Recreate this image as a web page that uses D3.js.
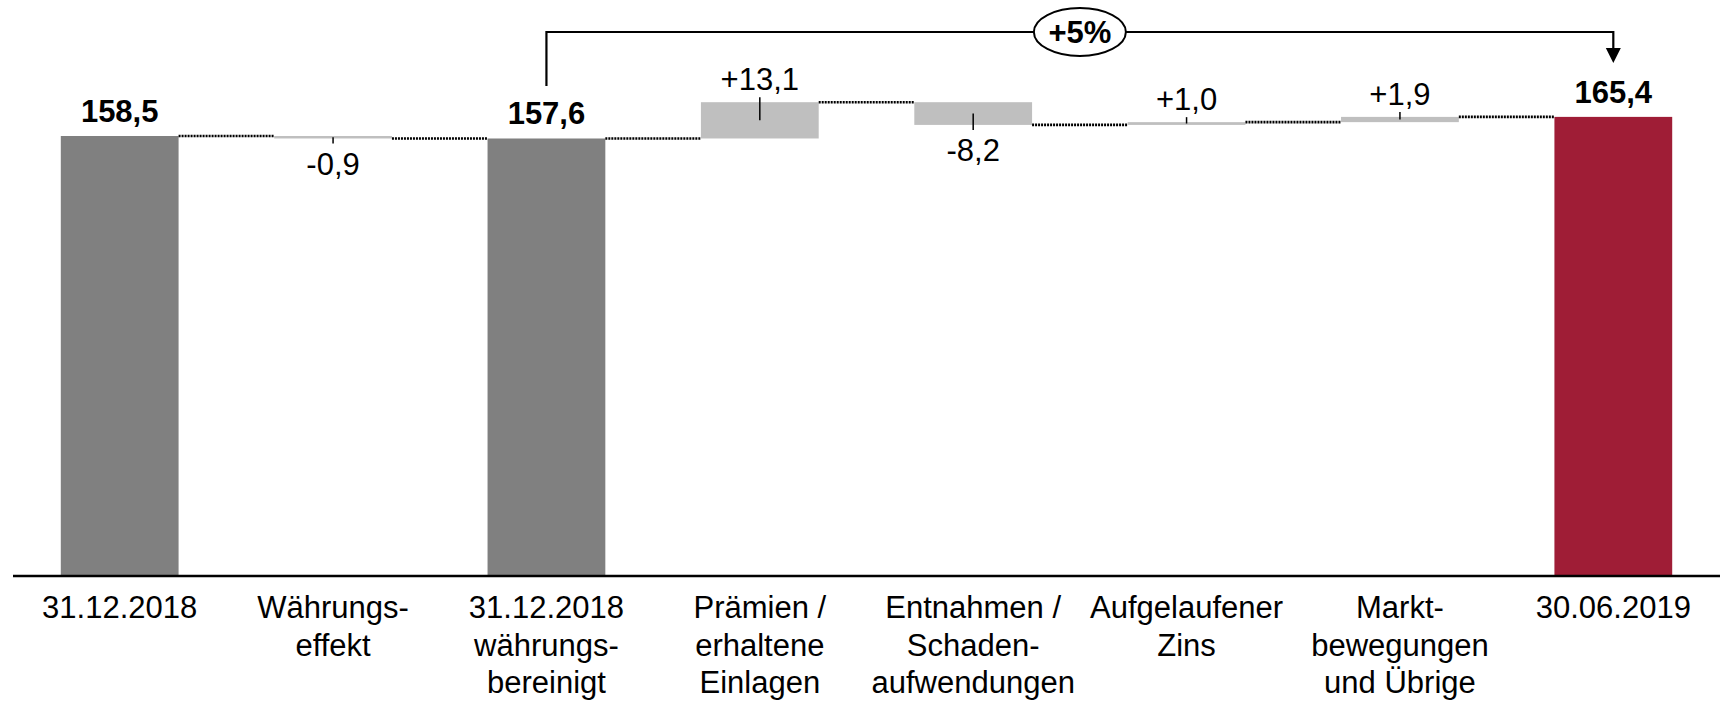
<!DOCTYPE html>
<html lang="de">
<head>
<meta charset="utf-8">
<title>Entwicklung 31.12.2018 – 30.06.2019</title>
<script src="https://cdn.jsdelivr.net/npm/d3@7"></script>
<style>
  html, body { margin: 0; padding: 0; background: #fff; }
  svg { display: block; }
  text { font-family: "Liberation Sans", Arial, sans-serif; fill: #000; }
</style>
</head>
<body>
<svg id="chart" width="1720" height="702"></svg>
<script>
// Category labels (one entry per line)
const categories = [
  ["31.12.2018"],
  ["Währungs-", "effekt"],
  ["31.12.2018", "währungs-", "bereinigt"],
  ["Prämien /", "erhaltene", "Einlagen"],
  ["Entnahmen /", "Schaden-", "aufwendungen"],
  ["Aufgelaufener", "Zins"],
  ["Markt-", "bewegungen", "und Übrige"],
  ["30.06.2019"]
];
// Values: totals are absolute levels, deltas are changes
const values = [158.5, -0.9, 157.6, 13.1, -8.2, 1.0, 1.9, 165.4];
const kinds  = ["start", "delta", "total", "delta", "delta", "delta", "delta", "end"];

const W = 1720, H = 702;
const baseY = 575;
const svg = d3.select("#chart");

// Build waterfall segments
let running = 0;
const bars = values.map((v, i) => {
  let y0, y1;
  if (kinds[i] === "delta") {
    y0 = running; y1 = running + v; running = y1;
  } else {
    y0 = 0; y1 = v; running = v;
  }
  return { i, v, kind: kinds[i], y0, y1, level: running };
});

const x = d3.scaleBand()
  .domain(d3.range(categories.length))
  .range([13, 1720])
  .paddingInner(0.448)
  .paddingOuter(0.224);

const y = d3.scaleLinear().domain([0, 207.6]).range([baseY, 0]);

const colour = { start: "#808080", total: "#808080", delta: "#bfbfbf", end: "#9f1d36" };
const fmt = v => d3.format(".1f")(Math.abs(v)).replace(".", ",");
const cx = i => x(i) + x.bandwidth() / 2;

// Bars
svg.append("g").selectAll("rect").data(bars).join("rect")
  .attr("x", d => x(d.i))
  .attr("width", x.bandwidth())
  .attr("y", d => y(Math.max(d.y0, d.y1)))
  .attr("height", d => Math.abs(y(d.y0) - y(d.y1)))
  .attr("fill", d => colour[d.kind]);

// Dotted connectors between neighbouring bars
svg.append("g").selectAll("line").data(bars.slice(0, -1)).join("line")
  .attr("x1", d => x(d.i) + x.bandwidth())
  .attr("x2", d => x(d.i + 1))
  .attr("y1", d => y(d.level))
  .attr("y2", d => y(d.level))
  .attr("stroke", "#000")
  .attr("stroke-width", 2.6)
  .attr("stroke-dasharray", "2,1");

// Axis baseline
svg.append("line")
  .attr("x1", 13).attr("x2", W)
  .attr("y1", baseY + 1).attr("y2", baseY + 1)
  .attr("stroke", "#000").attr("stroke-width", 2.5);

// Total labels (bold, above)
const totals = bars.filter(d => d.kind !== "delta");
svg.append("g").selectAll("text").data(totals).join("text")
  .attr("x", d => cx(d.i))
  .attr("y", d => y(d.y1) - 14)
  .attr("text-anchor", "middle")
  .attr("font-size", 31)
  .attr("font-weight", "bold")
  .text(d => fmt(d.v));

// Delta labels with leader ticks
const deltas = bars.filter(d => d.kind === "delta");
const dg = svg.append("g");
deltas.forEach(d => {
  const top = y(Math.max(d.y0, d.y1));
  const bot = y(Math.min(d.y0, d.y1));
  const mid = (top + bot) / 2;
  const up = d.v > 0;
  dg.append("line")
    .attr("x1", cx(d.i)).attr("x2", cx(d.i))
    .attr("y1", mid)
    .attr("y2", up ? top - 5 : bot + 5)
    .attr("stroke", "#000").attr("stroke-width", 1.5);
  dg.append("text")
    .attr("x", cx(d.i))
    .attr("y", up ? top - 12 : bot + 36.5)
    .attr("text-anchor", "middle")
    .attr("font-size", 31)
    .text((up ? "+" : "-") + fmt(d.v));
});

// Category labels
const lg = svg.append("g");
categories.forEach((lines, i) => {
  const t = lg.append("text")
    .attr("x", cx(i))
    .attr("y", 618)
    .attr("text-anchor", "middle")
    .attr("font-size", 31);
  lines.forEach((ln, k) => {
    t.append("tspan").attr("x", cx(i)).attr("y", 618 + k * 37.5).text(ln);
  });
});

// Growth bracket from adjusted opening value to closing value
const from = bars[2], to = bars[7];
const pct = Math.round((to.v / from.v - 1) * 100);
const bx1 = cx(from.i), bx2 = cx(to.i), by = 32;
svg.append("path")
  .attr("d", `M${bx1},86 V${by} H${bx2} V49`)
  .attr("fill", "none")
  .attr("stroke", "#000")
  .attr("stroke-width", 2.2);
svg.append("path")
  .attr("d", `M${bx2 - 7.5},48 L${bx2 + 7.5},48 L${bx2},63 Z`)
  .attr("fill", "#000");
const ex = (bx1 + bx2) / 2;
svg.append("ellipse")
  .attr("cx", ex).attr("cy", by)
  .attr("rx", 46).attr("ry", 24)
  .attr("fill", "#fff")
  .attr("stroke", "#000")
  .attr("stroke-width", 2);
svg.append("text")
  .attr("x", ex).attr("y", by + 10.5)
  .attr("text-anchor", "middle")
  .attr("font-size", 31)
  .attr("font-weight", "bold")
  .text((pct >= 0 ? "+" : "") + pct + "%");
</script>
</body>
</html>
